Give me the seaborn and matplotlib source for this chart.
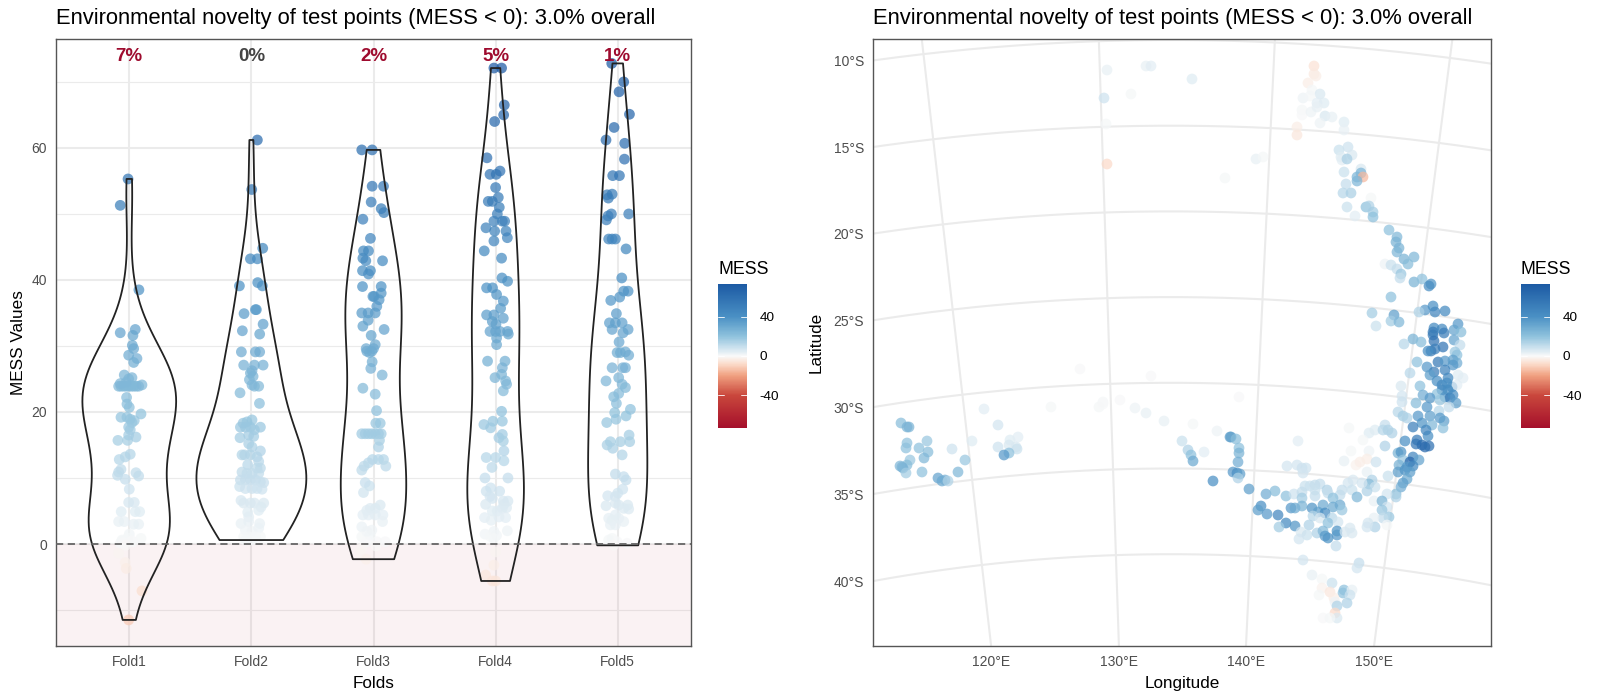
import numpy as np
import pandas as pd
import matplotlib
matplotlib.use("Agg")
import matplotlib.pyplot as plt
from matplotlib.colors import LinearSegmentedColormap, Normalize
from matplotlib.colorbar import ColorbarBase
from matplotlib.ticker import FixedFormatter
import seaborn as sns

TITLE = "Environmental novelty of test points (MESS < 0): 3.0% overall"
folds = ["Fold1", "Fold2", "Fold3", "Fold4", "Fold5"]
pct_labels = ["7%", "0%", "2%", "5%", "1%"]
pct_colors = ["#9E0B2E", "#444444", "#9E0B2E", "#9E0B2E", "#9E0B2E"]
bar_ticks = [-40, 0, 40]
bar_labels = ["-40", "0", "40"]

# (horizontal jitter, MESS value)
fold1 = [(-.01,55.3),(-.074,51.3),(.079,38.5),(-.074,32.0),(.049,32.5),(.03,31.6),(.025,30.1),(.036,29.6),(-.005,28.6),(.063,28.1),
 (.036,27.5),(-.041,25.6),(.022,25.2),(-.005,25.0),(-.087,23.9),(-.068,23.9),(-.046,23.9),(-.025,23.9),(-.005,23.9),(.016,23.9),
 (.036,23.9),(.057,23.9),(.077,23.9),(.104,24.1),(-.074,24.3),(-.025,24.5),(-.022,22.2),(-.019,21.2),(0,20.7),(.096,19.7),
 (-.068,19.2),(-.019,19.2),(.008,18.9),(.041,18.7),(.022,18.4),(-.005,17.7),(.008,17.3),(-.093,15.7),(-.014,15.7),(.055,16.2),
 (-.005,16.5),(.008,13.6),(-.033,13.2),(-.082,12.8),(-.068,11.3),(-.096,10.4),(-.087,10.9),(.055,10.8),(.077,10.3),(-.033,9.8),
 (0,8.3),(-.005,6.3),(.041,6.3),(-.066,4.9),(.049,4.9),(.085,4.9),(-.087,3.4),(-.041,3.4),(.036,3.0),(.077,3.0),
 (0,1.5),(.096,.85),(-.06,.45),(-.033,.45),(-.005,.35),(-.074,.1),(-.014,.9),(.03,.3),(-.087,-1.4),(-.033,-2.8),
 (-.025,-3.7),(.104,-7.1),(-.005,-11.5),(-.06,.6),(-.02,.6),(.02,.5),(-.05,.2),(-.03,-.2)]
fold2 = [(.049,61.2),(.003,53.7),(.093,44.8),(-.008,43.2),(.049,43.2),(-.098,39.1),(.052,39.6),(.09,39.1),(-.06,34.9),(.033,35.5),
 (.041,35.5),(.096,33.3),(-.074,32.3),(.068,31.8),(-.082,29.1),(.033,29.1),(.068,29.1),(-.063,27.1),(.025,27.1),(.096,27.1),
 (.005,26.25),(-.008,25.9),(.014,25.4),(-.016,24.9),(.025,23.9),(.06,23.9),(.005,24.1),(-.093,22.9),(.066,21.3),(-.068,18.3),
 (.005,18.8),(-.036,18.5),(-.09,17.7),(-.049,17.7),(-.008,17.7),(.074,17.7),(.025,17.3),(-.093,16.1),(-.022,16.5),(.019,16.3),
 (-.022,15.2),(.005,14.7),(.074,14.1),(-.077,13.5),(-.055,13.5),(-.008,13.5),(.046,13.2),(.06,12.5),(-.03,12.0),(.074,11.5),
 (.046,11.5),(-.077,10.9),(-.036,10.7),(.005,10.7),(.06,10.7),(-.09,9.7),(-.049,9.7),(-.008,9.7),(.033,9.7),(.074,9.4),
 (.101,9.3),(-.096,8.7),(-.049,8.4),(.005,8.4),(.046,8.4),(.087,8.3),(-.085,6.6),(-.063,6.2),(-.008,6.2),(.025,6.2),
 (.101,6.2),(.079,5.6),(.06,5.1),(-.03,4.8),(-.022,4.1),(-.085,3.1),(-.022,3.4),(.068,3.1),(.06,2.4),(-.049,2.1),
 (.005,1.9),(-.063,1.1),(-.022,1.1),(.033,1.1),(.074,1.1),(-.049,.6),(.005,.6)]
fold3 = [(-.096,59.7),(-.011,59.7),(-.011,54.2),(.082,54.2),(-.019,51.8),(.063,50.8),(.085,50.2),(-.087,49.2),(-.025,46.3),(-.082,44.4),
 (-.041,44.4),(-.087,43.3),(-.063,42.9),(.074,42.9),(-.09,41.4),(-.025,41.4),(-.041,40.9),(.063,39.0),(-.09,39.0),(.063,38.0),
 (-.005,37.5),(.005,37.5),(.046,37.0),(.027,36.0),(-.096,35.0),(-.044,35.0),(.014,35.0),(-.044,33.9),(-.087,33.0),(.087,32.5),
 (-.019,31.6),(.014,30.2),(-.06,29.6),(0,29.6),(-.055,29.2),(-.014,29.2),(-.033,29.0),(-.011,27.6),(-.022,26.6),(.071,25.6),
 (-.087,23.6),(.014,22.7),(.025,20.2),(.019,18.3),(.055,18.3),(-.096,16.7),(-.068,16.7),(-.041,16.7),(-.014,16.7),(.014,16.7),
 (.041,16.7),(.063,16.7),(.049,15.7),(.041,14.7),(-.008,12.8),(.041,12.8),(.082,12.8),(-.041,12.3),(-.077,11.8),(.101,11.8),
 (-.096,11.2),(-.068,9.3),(-.033,8.8),(-.082,7.8),(.055,5.9),(.014,5.4),(-.027,5.4),(-.055,5.1),(-.087,4.4),(-.041,4.4),
 (.014,4.4),(.077,4.4),(.074,3.4),(-.096,2.6),(-.014,2.1),(-.055,1.9),(-.096,1.1),(-.027,1.3),(.027,.35),(.096,.35),
 (-.055,.35),(-.096,-.7),(-.109,-1.4),(-.06,-2.3),(.02,-.3)]
fold4 = [(-.014,72.1),(.049,72.1),(.071,66.5),(.066,65.0),(-.008,64.0),(-.071,58.5),(-.046,56.0),(.005,56.0),(.036,56.5),(0,54.0),
 (.022,52.5),(-.06,51.9),(-.027,51.9),(.03,51.0),(.014,50.0),(-.014,48.9),(.055,48.9),(.074,48.9),(-.079,47.9),(-.008,47.4),
 (.085,47.4),(.096,46.4),(-.014,45.9),(-.093,44.4),(.049,43.3),(.052,40.3),(.098,39.8),(-.074,38.8),(-.025,38.8),(.008,37.8),
 (.063,36.8),(.041,35.7),(-.074,34.7),(-.014,34.7),(.063,34.2),(-.027,33.7),(.003,33.3),(-.046,32.2),(0,32.2),(.036,32.2),
 (.098,32.2),(.104,31.8),(.008,31.2),(.008,30.2),(-.066,27.7),(.077,27.7),(.055,26.7),(.049,25.7),(-.005,25.2),(.082,24.7),
 (.09,24.2),(.063,23.2),(.049,20.1),(-.022,18.6),(.055,18.6),(-.096,18.1),(-.041,17.6),(.055,16.6),(.027,16.1),(.063,15.6),
 (.068,14.1),(-.077,13.1),(0,13.1),(.068,12.6),(-.03,11.6),(-.087,10.0),(.101,10.0),(-.041,8.5),(-.077,8.0),(.033,8.0),
 (-.046,7.2),(-.027,6.9),(-.082,6.0),(.063,6.5),(.101,6.5),(.068,6.0),(-.027,5.0),(.014,5.0),(.055,5.4),(.09,5.5),
 (-.09,4.0),(-.036,3.6),(.027,4.1),(.082,4.0),(-.014,1.9),(-.087,1.5),(.096,2.0),(-.041,1.1),(.008,1.3),(-.014,.85),
 (0,-1.2),(-.014,-3.2),(-.082,-4.7),(-.027,-5.6),(0,-5.6)]
fold5 = [(-.049,72.8),(.049,70.0),(.011,68.5),(.096,65.1),(-.03,63.1),(-.096,61.2),(.057,60.7),(.055,58.3),(-.041,55.8),(.014,55.8),
 (-.087,52.9),(-.046,53.0),(-.077,52.4),(.09,50.0),(-.052,50.0),(-.079,49.7),(-.093,49.1),(-.074,46.2),(-.046,46.2),(-.019,46.2),
 (.068,44.7),(.033,40.3),(.049,38.3),(.085,38.3),(.016,37.4),(-.057,36.9),(-.011,34.9),(-.068,33.5),(-.019,33.5),(.036,33.5),
 (-.046,32.5),(.085,32.5),(.044,32.0),(.011,30.6),(-.005,29.0),(.022,29.0),(.063,29.1),(.09,28.6),(-.046,26.7),(.041,26.7),
 (.063,26.7),(.008,25.2),(-.096,24.7),(.036,24.2),(.063,23.7),(.008,22.8),(-.033,22.3),(-.011,21.3),(.104,20.4),(-.025,19.9),
 (.068,19.4),(-.014,18.9),(-.09,18.4),(.093,16.5),(.098,15.5),(.022,15.5),(-.06,15.5),(-.087,15.0),(-.041,14.5),(.036,13.5),
 (-.019,10.6),(.049,10.2),(.068,9.7),(.041,8.3),(0,7.7),(-.082,7.3),(-.019,7.2),(-.019,6.2),(-.096,5.8),(.008,5.9),
 (.082,5.9),(.049,5.4),(.09,5.3),(-.019,4.4),(-.074,3.9),(-.046,3.6),(.008,3.9),(.049,3.4),(-.06,2.9),(-.019,2.9),
 (-.046,.85),(-.074,.6),(-.005,.35),(.077,.1),(-.033,-.2)]
fold_points = [fold1, fold2, fold3, fold4, fold5]

# (easting, northing, MESS) in the projected map coordinates
map_outback = [(-64,2149,3),(-25,2153,3),(-20,2153,4),(21,2140,5),(-40,2125,1),(-67,2121,8),(-65,2095,1),(-64,2055,-8),(54,2041,1)]
map_north = [(143,2153,-6),(143,2145,-4),(145,2143,-3),(137,2136,-3),(141,2129,1),(149,2125,6),(132,2121,2),(139,2123,1),(146,2116,4),(153,2116,5),
 (131,2109,1),(131,2104,0),(140,2107,2),(146,2112,3),(154,2103,6),(161,2102,3),(149,2096,2),(173,2097,5),(173,2089,3),(126,2092,-3),
 (126,2084,-5),(85,2060,3),(92,2062,1),(168,2069,9),(177,2072,8),(181,2064,6),(170,2062,5),(171,2059,4),(176,2060,15),(173,2047,9),
 (190,2050,6),(190,2046,25),(186,2042,25),(192,2042,-15),(186,2038,25),(175,2035,10),(172,2026,12),(180,2026,15),(200,2021,1),(176,2012,9),
 (184,2003,4),(195,2012,20),(198,2013,14),(202,2007,16),(202,2002,20),(218,1989,20),(226,1982,24),(225,1977,26),(228,1971,26),(226,1967,25),
 (243,1962,24),(233,1960,26),(237,1955,22),(214,1955,2),(220,1954,9),(226,1950,10),(230,1945,18),(229,1941,10),(243,1937,26),(251,1940,20),
 (260,1935,38),(258,1933,42),(220,1922,20)]
map_coast = [(254,1909,36),(248,1907,14),(262,1913,40),(264,1907,46),(274,1908,44),(201,1906,16),(223,1904,34),(220,1898,16),(228,1897,24),(205,1893,9),
 (287,1895,36),(283,1889,32),(290,1887,22),(263,1891,44),(262,1887,52),(271,1890,44),(273,1886,52),(262,1884,52),(242,1880,26),(250,1877,22),
 (233,1875,12),(283,1879,32),(263,1878,58),(289,1874,10),(272,1872,56),(264,1870,50),(260,1868,52),(257,1868,40),(284,1867,18),(286,1864,20),
 (246,1857,20),(267,1857,54),(274,1858,36),(282,1859,34),(286,1856,28),(282,1854,36),(256,1852,36),(274,1849,48),(263,1847,52),(259,1844,34),
 (239,1846,12),(287,1844,5),(292,1841,4),(266,1838,40),(277,1841,44),(271,1834,44),(276,1836,40),(281,1832,40),(286,1834,4),(249,1833,20),
 (230,1833,6),(271,1829,44),(277,1829,42),(266,1825,20),(252,1824,28),(259,1821,36),(274,1822,38),(279,1821,54),(282,1824,40),(231,1823,7),
 (231,1817,8),(269,1819,18),(245,1816,22),(285,1816,34),(278,1812,10),(256,1812,36),(268,1808,12),(227,1807,12),(232,1803,16),(236,1801,14),
 (247,1803,36),(259,1803,34),(269,1801,36),(273,1798,34),(251,1796,38),(261,1794,24),(242,1792,50),(272,1791,20),(234,1778,40),(257,1783,40),
 (255,1789,46),(246,1779,54),(245,1775,56),(251,1774,62),(254,1772,64),(258,1773,60),(214,1773,14),(127,1778,4),(178,1791,1),(198,1786,5),
 (204,1789,5),(214,1794,10),(212,1789,12),(217,1789,14),(221,1786,14),(192,1779,1),(180,1768,1),(198,1768,2),(227,1766,26),(230,1767,38),
 (232,1759,18),(242,1762,46),(239,1757,66),(248,1759,32),(228,1754,26),(236,1752,36),(242,1753,44),(173,1758,3),(185,1754,-2),(189,1757,-3),
 (196,1760,-3),(205,1757,8),(196,1747,3),(227,1747,34),(234,1749,38),(239,1747,34),(217,1743,9),(116,1753,7),(126,1754,7),(131,1751,8),
 (135,1751,8),(132,1746,7),(236,1740,30),(232,1736,34),(230,1732,28),(201,1739,14),(198,1735,22),(204,1732,9),(196,1728,14),(182,1739,6),
 (177,1736,7),(191,1736,7),(181,1729,9),(186,1722,24),(225,1725,22),(225,1722,14),(216,1725,7),(203,1718,3),(211,1718,26),(216,1712,7),
 (211,1709,18),(218,1702,18),(212,1701,10),(203,1701,3),(204,1692,14),(197,1696,7),(196,1692,7),(216,1694,1)]
map_south = [(78,1730,34),(95,1725,28),(104,1728,22),(115,1723,20),(123,1725,8),(134,1733,9),(139,1733,9),(144,1734,10),(149,1735,10),(131,1727,10),
 (144,1729,9),(156,1729,14),(157,1726,10),(171,1729,10),(169,1724,10),(131,1721,16),(144,1723,10),(162,1721,20),(90,1713,40),(87,1709,34),
 (96,1705,36),(107,1704,46),(120,1711,36),(124,1711,30),(131,1713,26),(141,1711,38),(152,1714,30),(162,1712,30),(169,1714,30),(147,1707,34),
 (154,1706,42),(171,1709,18),(142,1703,12),(149,1701,6),(161,1701,12),(157,1696,20),(167,1697,7),(115,1696,44),(108,1692,16),(124,1693,38),
 (138,1694,14),(130,1687,6),(136,1684,9),(128,1680,7),(146,1686,14),(152,1688,24),(166,1688,38),(166,1684,36),(154,1683,36),(157,1681,38),
 (174,1687,6),(179,1691,6),(181,1686,6),(165,1673,10)]
map_tasmania = [(132,1659,7),(188,1656,10),(186,1651,7),(141,1644,3),(151,1640,1),(161,1636,9),(151,1631,-2),(159,1627,-5),(148,1624,1),(173,1629,20),
 (172,1626,20),(181,1629,3),(179,1624,8),(163,1621,-3),(164,1617,2),(166,1613,14),(176,1616,14),(164,1606,-8),(166,1601,6),(152,1601,0),(159,1601,1)]
map_west = [(-270,1796,22),(-264,1792,26),(-262,1792,26),(-264,1776,20),(-265,1771,20),(-252,1771,20),(-244,1778,18),(-243,1767,22),(-247,1761,24),(-261,1759,18),
 (-264,1754,22),(-269,1752,26),(-268,1751,26),(-271,1753,24),(-265,1746,16),(-249,1747,20),(-233,1741,32),(-229,1738,30),(-226,1739,28),(-223,1738,14),
 (-213,1747,24),(-206,1759,18),(-219,1770,8),(-199,1778,5),(-187,1810,4),(-173,1794,7),(-173,1772,8),(-161,1779,5),(-153,1782,4),(-162,1774,6),
 (-155,1772,6),(-154,1770,9),(-162,1766,20),(-167,1764,36),(-120,1812,1),(-91,1850,0),(-72,1812,1),(-68,1817,1),(-68,1815,0),(-51,1819,0),
 (-36,1811,2),(-25,1806,3),(-20,1843,0),(-7,1798,3),(22,1795,1),(68,1822,0),(46,1788,2),(11,1778,9),(17,1769,14),(20,1764,20),
 (22,1758,30),(33,1767,4),(59,1782,34),(60,1782,34),(65,1780,22),(68,1771,20),(68,1766,26),(67,1757,28),(62,1747,36),(66,1746,40),
 (69,1745,34),(67,1741,14),(42,1738,40)]
map_groups = [map_outback, map_north, map_coast, map_south, map_tasmania, map_west]
lat_breaks = [10, 15, 20, 25, 30, 35, 40]
lon_breaks = [120, 130, 140, 150]

FW, FH = 1600, 700
def box(l, t, r, b):
    return [l / FW, (FH - b) / FH, (r - l) / FW, (b - t) / FH]

sns.set_theme(style="white")
plt.rcParams["font.family"] = ["Liberation Sans", "DejaVu Sans"]
GRID = "#EBEBEB"; SPINE = "#555555"; TICK = "#4D4D4D"
LIM = 73
scale_values = [-73, -40, -20, -8, 0, 8, 20, 40, 73]
scale_colors = ["#A50F2B", "#C9473C", "#F0A080", "#FBDCCB", "#F9F9F9", "#CFE3EF", "#8FC2DD", "#4A90C4", "#1C5AA4"]
cmap = LinearSegmentedColormap.from_list("mess", [((v + LIM) / (2 * LIM), c) for v, c in zip(scale_values, scale_colors)])
norm = Normalize(-LIM, LIM)

fig = plt.figure(figsize=(16, 7), dpi=100)
ax = fig.add_axes(box(56, 39, 691, 646))
m = fig.add_axes(box(873, 39, 1491, 646))

# ---------- left panel
rows = [(i, folds[i], j, v) for i, pts in enumerate(fold_points) for j, v in pts]
df = pd.DataFrame(rows, columns=["idx", "fold", "jit", "mess"])
df["xpos"] = df["idx"] + df["jit"]
ax.set_axisbelow(True)
ax.axhspan(-16, 0, facecolor="#B2182B", alpha=0.055, lw=0, zorder=1)
sns.scatterplot(data=df, x="xpos", y="mess", hue="mess", palette=cmap, hue_norm=norm, legend=False,
                s=60, alpha=0.72, linewidth=0, ax=ax, zorder=2)
sns.violinplot(data=df, x="fold", y="mess", order=folds, density_norm="area", cut=0, width=0.9, fill=False,
               inner=None, color="#222222", linewidth=1.3, bw_method="silverman", ax=ax, zorder=3)
ax.axhline(0, color="#666666", lw=1.3, ls=(0, (4, 2.5)), zorder=3)
for i, (t, c) in enumerate(zip(pct_labels, pct_colors)):
    ax.text(i, 73.9, t, color=c, ha="center", va="center", fontsize=13.5, fontweight="bold", zorder=4)
ax.set_xlim(-0.6, 4.6)
ax.set_ylim(-15.45, 76.5)
ax.set_yticks([0, 20, 40, 60])
ax.set_yticks([-10, 10, 30, 50, 70], minor=True)
ax.grid(True, which="major", color=GRID, lw=1.5)
ax.grid(True, which="minor", axis="y", color=GRID, lw=0.8)
ax.set_xlabel("Folds", fontsize=12.3, color="black", labelpad=5)
ax.set_ylabel("MESS Values", fontsize=12.3, color="black", labelpad=4)
ax.tick_params(axis="both", which="major", length=3.5, width=0.9, color="#333333", labelcolor=TICK, labelsize=10, pad=3)
ax.tick_params(axis="y", which="minor", length=0)

# ---------- right panel (conic projection of the coast)
APEX_N = 0.4626
LON0 = 134.1
def radius(lat):
    return 2179 - 17.14 * (lat - 10)
def project(lon, lat):
    th = np.radians(APEX_N * (np.asarray(lon, float) - LON0))
    r = radius(np.asarray(lat, float))
    return r * np.sin(th), r * np.cos(th)

E0, E1, N0, N1 = -298, 320, 1573, 2180
for lat in lat_breaks:
    e, n = project(np.linspace(90, 180, 200), np.full(200, lat))
    m.plot(e, n, color=GRID, lw=1.5, zorder=1)
for lon in lon_breaks:
    e, n = project(np.full(100, lon), np.linspace(0, 60, 100))
    m.plot(e, n, color=GRID, lw=1.5, zorder=1)

map_df = pd.DataFrame([p for g in map_groups for p in g], columns=["east", "north", "mess"])
sns.scatterplot(data=map_df, x="east", y="north", hue="mess", palette=cmap, hue_norm=norm, legend=False,
                s=60, alpha=0.72, linewidth=0, ax=m, zorder=2)
m.set_xlim(E0, E1)
m.set_ylim(N0, N1)
lon_ticks = [N0 * np.tan(np.radians(APEX_N * (l - LON0))) for l in lon_breaks]
lat_ticks = [np.sqrt(radius(l) ** 2 - E0 ** 2) for l in lat_breaks]
m.set_xticks(lon_ticks, [f"{l}°E" for l in lon_breaks])
m.set_yticks(lat_ticks, [f"{l}°S" for l in lat_breaks])
m.set_xlabel("Longitude", fontsize=12.3, color="black", labelpad=5)
m.set_ylabel("Latitude", fontsize=12.3, color="black", labelpad=7)
m.tick_params(axis="both", length=3.5, width=0.9, color="#333333", labelcolor=TICK, labelsize=10, pad=3)

for a in (ax, m):
    for s in a.spines.values():
        s.set_color(SPINE); s.set_linewidth(1.0); s.set_visible(True)
    a.set_title(TITLE, loc="left", fontsize=15.8, color="black", pad=10.5)

# ---------- colour bars
for left in (718, 1521):
    cax = fig.add_axes(box(left, 284, left + 29, 428))
    cb = ColorbarBase(cax, cmap=cmap, norm=norm, ticks=bar_ticks)
    cb.ax.yaxis.set_major_formatter(FixedFormatter(bar_labels))
    cb.outline.set_visible(False)
    cb.ax.tick_params(length=0, labelsize=9.7, labelcolor="black", pad=9)
    for v in bar_ticks:
        cax.plot([0, 0.2], [v, v], color="white", lw=0.6)
        cax.plot([0.8, 1], [v, v], color="white", lw=0.6)
    cax.set_xlim(0, 1)
    fig.text(left / FW, 1 - 269 / FH, "MESS", fontsize=12.8, color="black", ha="left", va="center")

fig.savefig("out.png", dpi=100)
